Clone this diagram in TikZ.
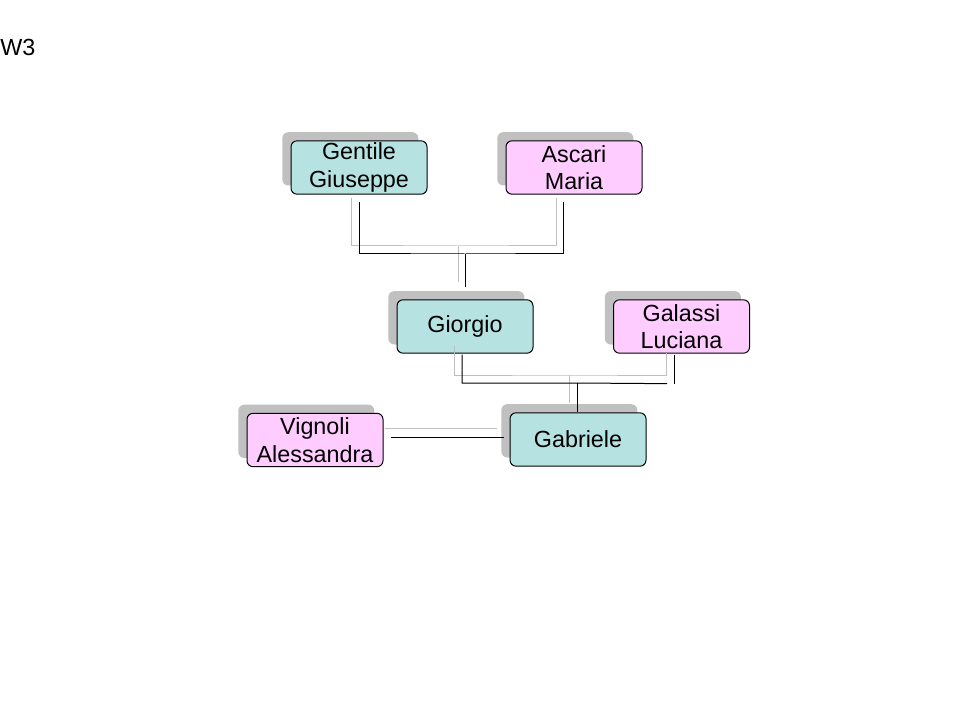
\documentclass[tikz,border=0pt]{standalone}
\usepackage{fontspec}
\setmainfont{Liberation Sans}
\usetikzlibrary{shadows,calc}
\definecolor{teal1}{RGB}{183,226,226}
\definecolor{pink1}{RGB}{255,204,255}
\definecolor{shd}{RGB}{192,192,192}
\definecolor{gline}{RGB}{190,190,190}
\tikzset{
  person/.style={draw=black, line width=0.75pt, rounded corners=4.5pt, align=center,
    minimum width=102pt, minimum height=40pt, inner sep=0pt,
    font=\fontsize{17.5}{20.5}\selectfont,
    general shadow={fill=shd, shadow xshift=-6.5pt, shadow yshift=6.5pt}},
  male/.style={person, fill=teal1},
  female/.style={person, fill=pink1},
  kline/.style={draw=black, line width=0.75pt},
  gl/.style={draw=gline, line width=0.75pt},
}
\begin{document}
\begin{tikzpicture}[x=0.75pt, y=-0.75pt]
\useasboundingbox (0,0) rectangle (960,720);
\node[anchor=base west, inner sep=0pt, font=\fontsize{17.5}{20.5}\selectfont] (title) at (0,56) {W3};

\node[male]   (gentile)  at (359,167.5) {Gentile\\Giuseppe};
\node[female] (ascari)   at (574,167.5) {Ascari\\Maria};
\node[male]   (giorgio)  at (465,326.5) {Giorgio};
\node[female] (galassi)  at (681.5,326.5) {Galassi\\Luciana};
\node[female] (vignoli)  at (315,440) {Vignoli\\Alessandra};
\node[male]   (gabriele) at (578,439.5) {Gabriele};

% first family
\coordinate (j1) at (465,254);
\coordinate (g1) at (458,246);
\draw[gl] ($(gentile.south)+(-8,3)$) |- (g1) -| ($(ascari.south)+(-18,3)$);
\draw[gl] (g1) -- ($(giorgio.north)+(-7,-17)$);
\draw[kline] ($(gentile.south)+(0,7)$) |- (j1) -| ($(ascari.south)+(-11,7)$);
\draw[kline] (j1) -- ($(giorgio.north)+(0,-12)$);

% second family
\coordinate (j2) at (577,383);
\coordinate (g2) at (569,375);
\draw[gl] ($(giorgio.south)+(-11,-8)$) |- (g2) -| ($(galassi.south)+(-15.5,-1)$);
\draw[gl] (g2) -- ($(gabriele.north)+(-9,-9)$);
\draw[kline] ($(giorgio.south)+(-3,1)$) |- (j2) -- ($(galassi.south)+(-14.5,30)$);
\draw[kline] ($(galassi.south)+(-7.5,1)$) -- ($(galassi.south)+(-7.5,30)$);
\draw[kline] (j2) -- (gabriele.north -| j2);

% marriage
\draw[gl] ($(vignoli.east)+(1,-12)$) -- ($(gabriele.west)+(-13,-11.5)$);
\draw[kline] ($(vignoli.east)+(7,-3)$) -- ($(gabriele.west)+(-6,-2.5)$);
\end{tikzpicture}
\end{document}
